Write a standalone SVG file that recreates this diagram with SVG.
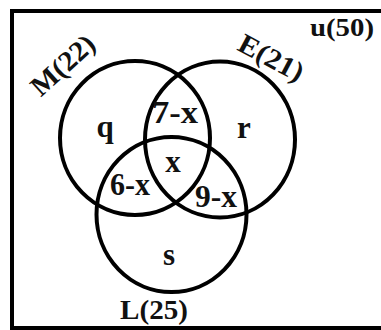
<svg xmlns="http://www.w3.org/2000/svg" width="381" height="330" viewBox="0 0 381 330">
<style>
.set{fill:none;stroke:#000;stroke-width:4}
text{font-family:'Liberation Serif','Times New Roman',Times,serif;font-weight:700;fill:#111}
.lbl{font-size:31px;text-anchor:middle}
</style>
<rect width="381" height="330" fill="#fff"/>
<g id="universe">
<rect x="12" y="11" width="375" height="317" fill="none" stroke="#000" stroke-width="4"/>
<text x="310" y="36" font-size="25" textLength="64" lengthAdjust="spacingAndGlyphs">u(50)</text>
</g>
<g id="set-M">
<ellipse class="set" cx="135" cy="138" rx="75" ry="77"/>
<text transform="translate(69,72) rotate(-42)" font-size="28" text-anchor="middle" textLength="76" lengthAdjust="spacingAndGlyphs">M(22)</text>
</g>
<g id="set-E">
<ellipse class="set" cx="220" cy="139.5" rx="75" ry="78"/>
<text transform="translate(267,66) rotate(28)" font-size="28" text-anchor="middle" textLength="70" lengthAdjust="spacingAndGlyphs">E(21)</text>
</g>
<g id="set-L">
<ellipse class="set" cx="171.5" cy="214.5" rx="75" ry="77.5"/>
<text x="154" y="319" font-size="28" text-anchor="middle" textLength="68" lengthAdjust="spacingAndGlyphs">L(25)</text>
</g>
<g id="regions">
<text class="lbl" x="105" y="137">q</text>
<text class="lbl" x="175" y="123" textLength="46" lengthAdjust="spacingAndGlyphs">7-x</text>
<text class="lbl" x="244" y="138">r</text>
<text class="lbl" x="173" y="172">x</text>
<text class="lbl" x="130" y="195" textLength="40" lengthAdjust="spacingAndGlyphs">6-x</text>
<text class="lbl" x="216" y="207" textLength="42" lengthAdjust="spacingAndGlyphs">9-x</text>
<text class="lbl" x="169" y="265">s</text>
</g>
<g id="connectors"></g>
</svg>
